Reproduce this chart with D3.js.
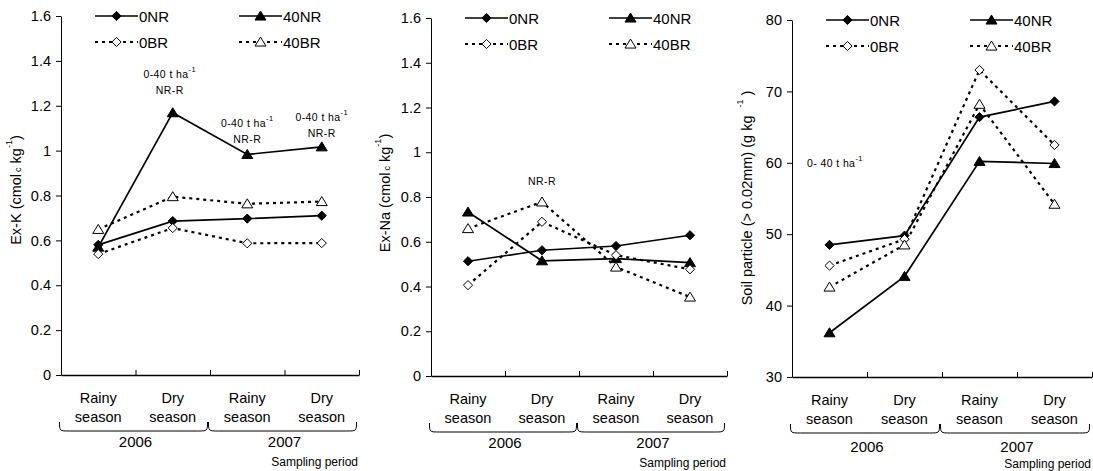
<!DOCTYPE html>
<html>
<head>
<meta charset="utf-8">
<script src="https://cdn.jsdelivr.net/npm/d3@7"></script>
<style>
  html, body { margin:0; padding:0; background:#fff; }
  svg { display:block; font-family:"Liberation Sans", Arial, sans-serif; }
</style>
</head>
<body>
<svg id="chart" width="1093" height="471"></svg>
<script>
// ── data ───────────────────────────────────────
const seasons  = ["Rainy", "Dry", "Rainy", "Dry"];
const years    = ["2006", "2007"];
const series   = ["0NR", "40NR", "0BR", "40BR"];

// values in series order: 0NR, 40NR, 0BR, 40BR
const exK  = [
  [0.58, 0.686, 0.697, 0.71],
  [0.57, 1.169, 0.983, 1.017],
  [0.539, 0.655, 0.587, 0.588],
  [0.649, 0.795, 0.763, 0.773],
];
const exNa = [
  [0.513, 0.562, 0.581, 0.629],
  [0.733, 0.515, 0.525, 0.507],
  [0.406, 0.689, 0.54, 0.477],
  [0.659, 0.778, 0.487, 0.353],
];
const soil = [
  [48.5, 49.8, 66.4, 68.6],
  [36.2, 44.1, 60.2, 59.9],
  [45.6, 49.3, 73.0, 62.5],
  [42.6, 48.5, 68.2, 54.2],
];
const ticksK    = [0, 0.2, 0.4, 0.6, 0.8, 1, 1.2, 1.4, 1.6];
const ticksSoil = [30, 40, 50, 60, 70, 80];

// ── helpers ────────────────────────────────────
const svg = d3.select('#chart');
const fmt = d => String(+(+d).toFixed(1));
const FS = 14.5;

function diamond(r) {
  const p = d3.path();
  p.moveTo(0, -r); p.lineTo(r, 0); p.lineTo(0, r); p.lineTo(-r, 0); p.closePath();
  return p.toString();
}
function triangle(w, h) {
  const p = d3.path();
  p.moveTo(0, -h * 0.55); p.lineTo(w / 2, h * 0.45); p.lineTo(-w / 2, h * 0.45); p.closePath();
  return p.toString();
}
const styles = {
  "0NR":  { shape: diamond(4.6),     fill: '#000', dash: null },
  "40NR": { shape: triangle(11, 9),  fill: '#000', dash: null },
  "0BR":  { shape: diamond(4.6),     fill: '#fff', dash: '3,4' },
  "40BR": { shape: triangle(11, 9),  fill: '#fff', dash: '3,4' },
};

function marker(g, name, x, y) {
  const s = styles[name];
  g.append('path')
    .attr('d', s.shape)
    .attr('transform', `translate(${x},${y})`)
    .attr('fill', s.fill)
    .attr('stroke', '#000')
    .attr('stroke-width', 1);
}

function drawPanel(opt) {
  const { left, right, top, bottom, domain, ticks, values, titleX, titleParts } = opt;
  const g = svg.append('g');

  const y = d3.scaleLinear().domain(domain).range([bottom, top]);
  const xb = d3.scaleLinear().domain([0, 4]).range([left, right]);
  const x = d3.scaleBand().domain(d3.range(4)).range([left, right]).padding(0);
  const cx = i => x(i) + x.bandwidth() / 2;

  // y axis
  const ya = g.append('g').attr('transform', `translate(${left},0)`)
    .call(d3.axisLeft(y).tickValues(ticks).tickFormat(fmt).tickSizeInner(5).tickSizeOuter(0).tickPadding(5));
  ya.select('.domain').attr('stroke', '#000');
  ya.selectAll('.tick line').attr('stroke', '#000');
  ya.selectAll('.tick text').attr('font-size', FS).attr('fill', '#000')
    .attr('font-family', '"Liberation Sans", Arial, sans-serif');

  // x axis (ticks pointing up, at category boundaries)
  const xa = g.append('g').attr('transform', `translate(0,${bottom})`)
    .call(d3.axisBottom(xb).tickValues([1, 2, 3, 4]).tickFormat('').tickSizeInner(-5).tickSizeOuter(0));
  xa.select('.domain').attr('stroke', '#000').attr('stroke-width', 1.4);
  xa.selectAll('.tick line').attr('stroke', '#000');

  // category labels
  seasons.forEach((s, i) => {
    g.append('text').attr('x', cx(i)).attr('y', bottom + 23)
      .attr('text-anchor', 'middle').attr('dominant-baseline', 'central')
      .attr('font-size', FS).text(s);
    g.append('text').attr('x', cx(i)).attr('y', bottom + 42)
      .attr('text-anchor', 'middle').attr('dominant-baseline', 'central')
      .attr('font-size', FS).text('season');
  });

  // year braces
  years.forEach((yr, j) => {
    const x0 = xb(2 * j) - 1.5, x1 = xb(2 * j + 2) - 2.5;
    const yt = bottom + 47, yb = bottom + 56, r = 10;
    g.append('path')
      .attr('d', `M${x0},${yt} C${x0},${yb} ${x0},${yb} ${x0 + r},${yb} L${x1 - r},${yb} C${x1},${yb} ${x1},${yb} ${x1},${yt}`)
      .attr('fill', 'none').attr('stroke', '#000').attr('stroke-width', 1);
    g.append('text').attr('x', (xb(2 * j) + xb(2 * j + 2)) / 2).attr('y', bottom + 66 + opt.yearShift)
      .attr('text-anchor', 'middle').attr('dominant-baseline', 'central')
      .attr('font-size', FS + 0.5).text(yr);
  });

  g.append('text').attr('x', right - 1).attr('y', bottom + 87)
    .attr('text-anchor', 'end').attr('dominant-baseline', 'central')
    .attr('font-size', 12).text('Sampling period');

  // y title
  const t = g.append('text')
    .attr('transform', `translate(${titleX},${opt.titleY}) rotate(-90)`)
    .attr('text-anchor', 'middle').attr('dominant-baseline', 'central')
    .attr('font-size', FS);
  titleParts.forEach(p => {
    const ts = t.append('tspan').text(p.t);
    if (p.sub) ts.attr('font-size', 9).attr('baseline-shift', '-2');
    if (p.sup) ts.attr('font-size', 9).attr('baseline-shift', '7');
    if (p.dx) ts.attr('dx', p.dx);
  });

  // series lines
  const line = d3.line().x((d, i) => cx(i)).y(d => y(d));
  series.forEach((name, k) => {
    g.append('path').datum(values[k])
      .attr('d', line)
      .attr('fill', 'none')
      .attr('stroke', '#000')
      .attr('stroke-width', styles[name].dash ? 2.2 : 1.7)
      .attr('stroke-dasharray', styles[name].dash);
  });
  series.forEach((name, k) => {
    values[k].forEach((v, i) => marker(g, name, cx(i), y(v)));
  });

  // legend
  const legendCols = [left + 34, left + 178];
  series.forEach((name, k) => {
    const lx = legendCols[k % 2];
    const ly = top + (k < 2 ? 0 : 26);
    const lg = g.append('g');
    lg.append('line').attr('x1', lx).attr('x2', lx + 43).attr('y1', ly).attr('y2', ly)
      .attr('stroke', '#000').attr('stroke-width', styles[name].dash ? 2.2 : 1.7)
      .attr('stroke-dasharray', styles[name].dash);
    marker(lg, name, lx + 21.5, ly);
    lg.append('text').attr('x', lx + 44).attr('y', ly)
      .attr('dominant-baseline', 'central').attr('font-size', 15).text(name);
  });

  return { g, x: cx, y };
}

function note(g, x, y, lines, anchor) {
  lines.forEach((ln, i) => {
    const t = g.append('text').attr('x', x).attr('y', y + i * 16)
      .attr('text-anchor', anchor || 'middle').attr('dominant-baseline', 'central')
      .attr('font-size', 10.5).attr('letter-spacing', 0.4);
    ln.forEach(p => {
      const ts = t.append('tspan').text(p.t);
      if (p.sup) ts.attr('font-size', 7.5).attr('baseline-shift', '5');
    });
  });
}
const rate = [{ t: '0-40 t ha' }, { t: '-1', sup: true }];
const nrr  = [{ t: 'NR-R' }];

// ── panels ─────────────────────────────────────
const p1 = drawPanel({
  left: 61, right: 359, top: 16, bottom: 375, domain: [0, 1.6], ticks: ticksK,
  values: exK, titleX: 16, titleY: 190, yearShift: 0,
  titleParts: [{ t: 'Ex-K (cmol' }, { t: 'c', sub: true, dx: 2 }, { t: ' kg' }, { t: '-1', sup: true }, { t: ')' }],
});
note(p1.g, p1.x(1) - 3, 74, [rate, nrr]);
note(p1.g, p1.x(2), 123, [rate, nrr]);
note(p1.g, p1.x(3), 117, [rate, nrr]);

const p2 = drawPanel({
  left: 431, right: 727, top: 18, bottom: 376, domain: [0, 1.6], ticks: ticksK,
  values: exNa, titleX: 385, titleY: 193, yearShift: 0,
  titleParts: [{ t: 'Ex-Na (cmol' }, { t: 'c', sub: true, dx: 2 }, { t: ' kg' }, { t: '-1', sup: true }, { t: ')' }],
});
note(p2.g, p2.x(1), 181, [nrr]);

const p3 = drawPanel({
  left: 792, right: 1092, top: 20, bottom: 377, domain: [30, 80], ticks: ticksSoil,
  values: soil, titleX: 747, titleY: 198, yearShift: 3,
  titleParts: [{ t: 'Soil particle (> 0.02mm) (g kg' }, { t: '-1', sup: true, dx: 8 }, { t: ' )' }],
});
note(p3.g, 807, 163, [[{ t: '0- 40 t ha' }, { t: '-1', sup: true }]], 'start');
</script>
</body>
</html>
